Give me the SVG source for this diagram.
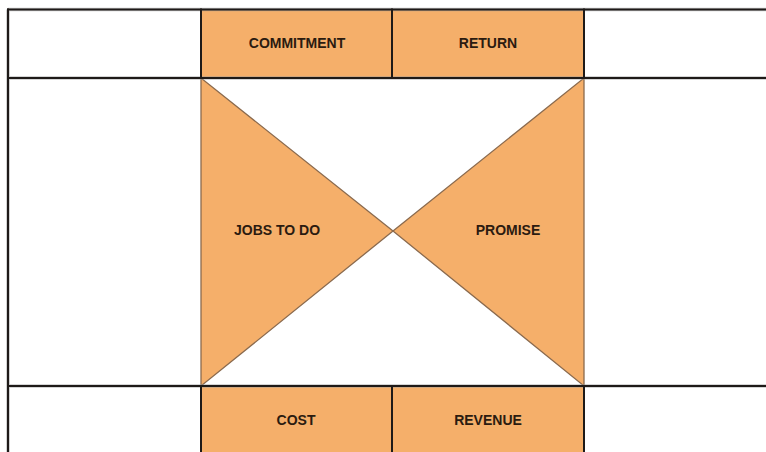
<svg xmlns="http://www.w3.org/2000/svg" width="766" height="452" viewBox="0 0 766 452">
  <style>
    .cell { fill: #f5af6a; stroke: none; }
    .tri { fill: #f5af6a; stroke: #8a6a4e; stroke-width: 1.3; stroke-linejoin: miter; }
    .grid { stroke: #1e1a18; stroke-width: 2; fill: none; stroke-linecap: square; }
    .halo { stroke: #9a9a9a; stroke-width: 3.6; fill: none; opacity: 0.55; }
    .label { font-family: "Liberation Sans", Arial, sans-serif; font-weight: bold; font-size: 14px; fill: #2b1b10; text-anchor: middle; }
  </style>
  <rect width="766" height="452" fill="#ffffff"/>

  <!-- top row cells -->
  <g id="commitment">
    <rect class="cell" x="201" y="9" width="191" height="69"/>
    <text class="label" x="297" y="48">COMMITMENT</text>
  </g>
  <g id="return">
    <rect class="cell" x="392" y="9" width="192" height="69"/>
    <text class="label" x="488" y="48">RETURN</text>
  </g>

  <!-- middle triangles -->
  <g id="jobs-to-do">
    <polygon class="tri" points="201,78 201,386 393,231"/>
    <text class="label" x="277" y="235">JOBS TO DO</text>
  </g>
  <g id="promise">
    <polygon class="tri" points="584,78 584,386 393,231"/>
    <text class="label" x="508" y="235">PROMISE</text>
  </g>

  <!-- bottom row cells -->
  <g id="cost">
    <rect class="cell" x="201" y="386" width="191" height="66"/>
    <text class="label" x="296" y="425">COST</text>
  </g>
  <g id="revenue">
    <rect class="cell" x="392" y="386" width="192" height="66"/>
    <text class="label" x="488" y="425">REVENUE</text>
  </g>

  <!-- grid lines -->
  <g id="connectors">
    <g class="halo">
      <line x1="8" y1="9.5" x2="766" y2="9.5"/>
      <line x1="8" y1="78" x2="766" y2="78"/>
      <line x1="8" y1="386" x2="766" y2="386"/>
      <line x1="8" y1="9.5" x2="8" y2="452"/>
    </g>
    <line class="grid" x1="8" y1="9.5" x2="770" y2="9.5"/>
    <line class="grid" x1="8" y1="78" x2="770" y2="78"/>
    <line class="grid" x1="8" y1="386" x2="770" y2="386"/>
    <line class="grid" x1="8" y1="9.5" x2="8" y2="456"/>
    <line class="grid" x1="201" y1="9.5" x2="201" y2="78"/>
    <line class="grid" x1="392" y1="9.5" x2="392" y2="78"/>
    <line class="grid" x1="584" y1="9.5" x2="584" y2="78"/>
    <line class="grid" x1="201" y1="386" x2="201" y2="456"/>
    <line class="grid" x1="392" y1="386" x2="392" y2="456"/>
    <line class="grid" x1="584" y1="386" x2="584" y2="456"/>
  </g>
</svg>
